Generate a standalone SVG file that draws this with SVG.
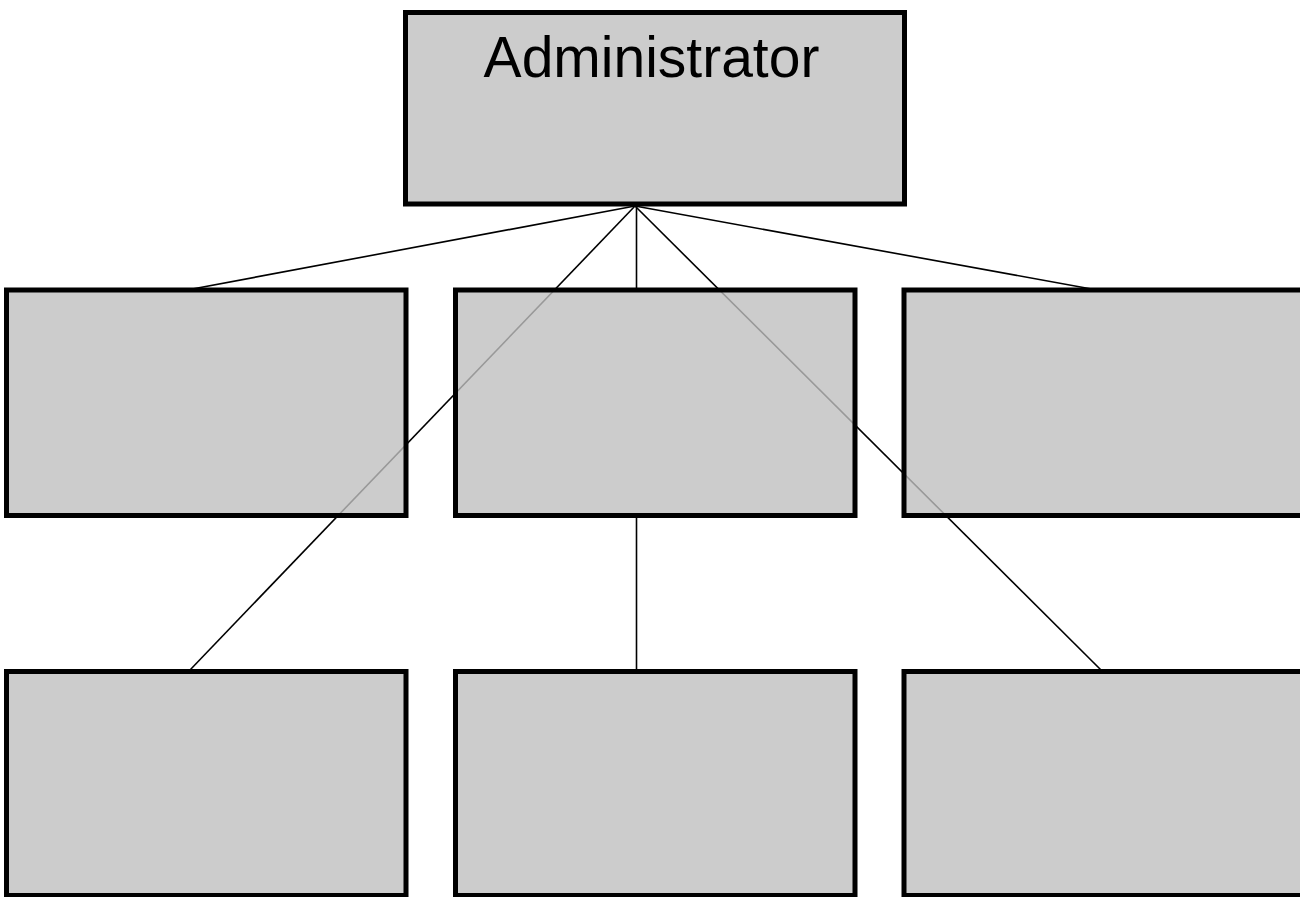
<svg xmlns="http://www.w3.org/2000/svg" width="1300" height="897" viewBox="0 0 1300 897">
<style>
.box{fill:#bfbfbf;fill-opacity:0.8;stroke:#000;stroke-width:5}
.top{fill:#cccccc;stroke:#000;stroke-width:5}
.conn line{stroke:#000;stroke-width:1.6;fill:none}
.lbl{font-family:"Liberation Sans",Arial,sans-serif;font-size:57px;fill:#000;text-anchor:middle}
</style>
<rect x="0" y="0" width="1300" height="897" fill="#fff"/>
<g id="connectors" class="conn">
<line x1="635" y1="206" x2="187" y2="290"/>
<line x1="635" y1="206" x2="1097" y2="290"/>
<line x1="636.5" y1="206" x2="636.5" y2="290"/>
<line x1="636.5" y1="515" x2="636.5" y2="671"/>
<line x1="635" y1="206" x2="190" y2="670"/>
<line x1="635" y1="206" x2="1101" y2="670"/>
</g>
<g id="admin">
<rect class="top" x="405.5" y="12.5" width="499" height="191.5"/>
<text class="lbl" x="651.5" y="77">Administrator</text>
</g>
<g id="node-r2-left"><rect class="box" x="6.5" y="290" width="399.5" height="225.5"/></g>
<g id="node-r2-mid"><rect class="box" x="455.5" y="290" width="399.5" height="225.5"/></g>
<g id="node-r2-right"><rect class="box" x="904" y="290" width="400" height="225.5"/></g>
<g id="node-r3-left"><rect class="box" x="6.5" y="671.5" width="399.5" height="224"/></g>
<g id="node-r3-mid"><rect class="box" x="455.5" y="671.5" width="399.5" height="224"/></g>
<g id="node-r3-right"><rect class="box" x="904" y="671.5" width="400" height="224"/></g>
</svg>
